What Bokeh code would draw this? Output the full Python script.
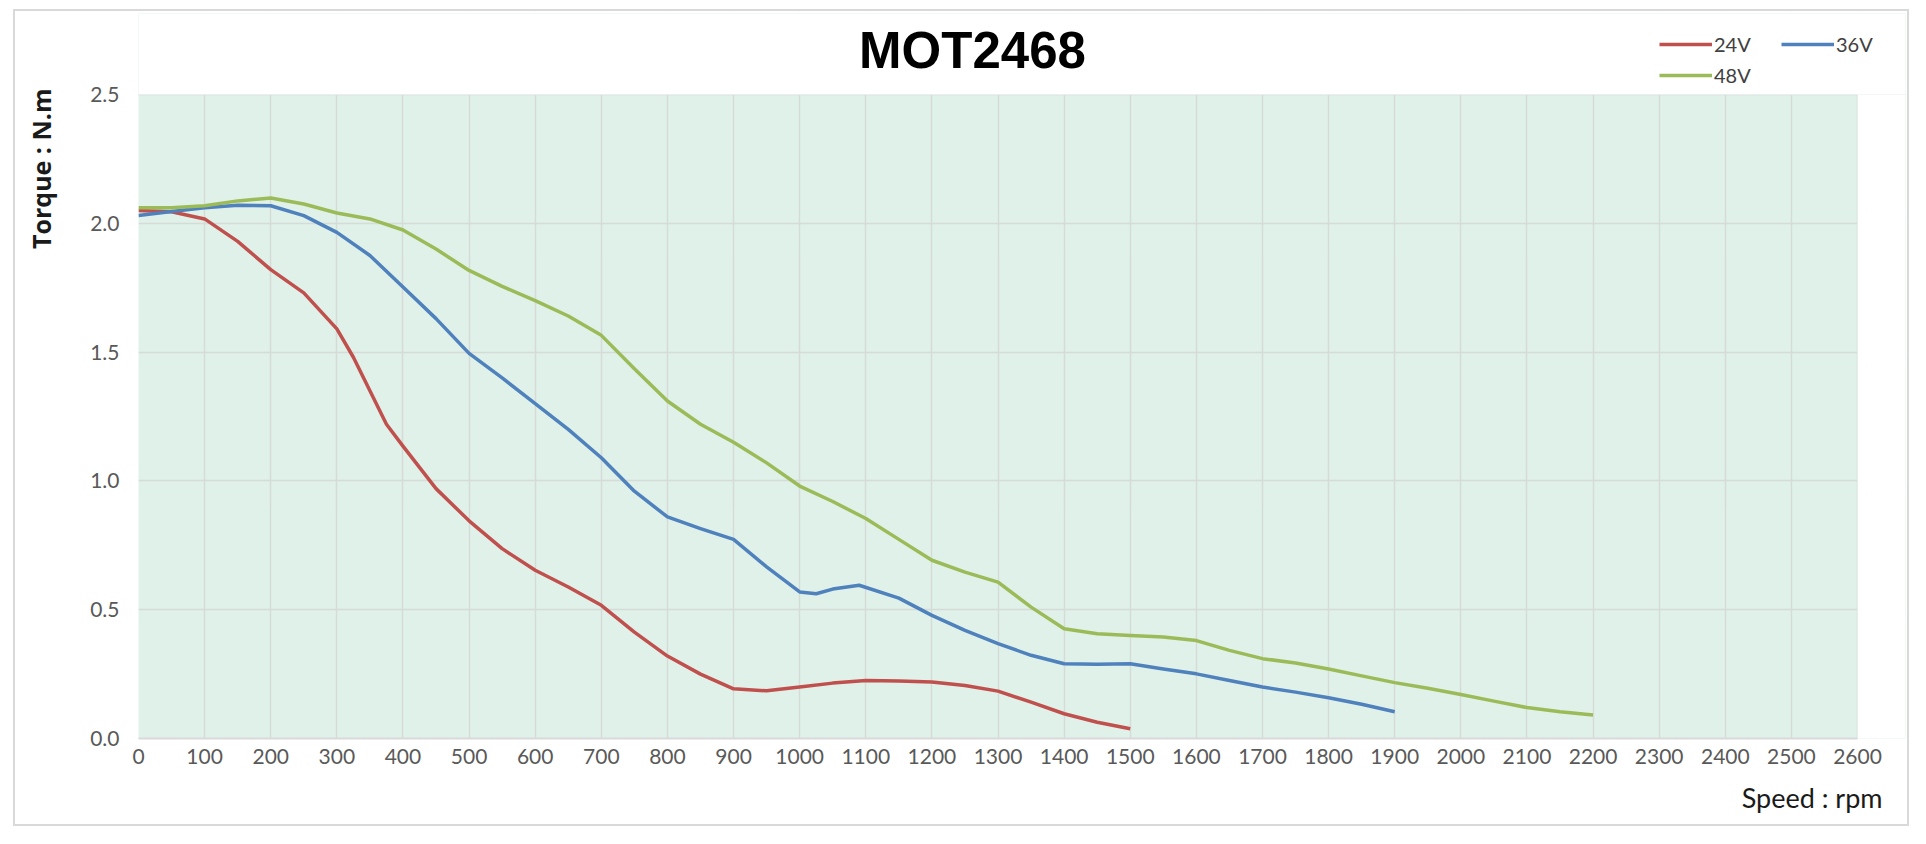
from bokeh.plotting import figure
from bokeh.models import (Range1d, FixedTicker, Legend, LegendItem, Title, Label,
                          NumeralTickFormatter, GlobalInlineStyleSheet)
from bokeh.embed import file_html
from bokeh.resources import INLINE

# ---- data ----
speed_24v = [0, 50, 100, 150, 200, 250, 300, 325, 350, 375, 400, 450, 500, 550, 600, 650, 700, 750, 800,
             850, 900, 950, 1000, 1050, 1100, 1150, 1200, 1250, 1300, 1350, 1400, 1450, 1500]
torque_24v = [2.05, 2.045, 2.017, 1.93, 1.82, 1.73, 1.59, 1.48, 1.35, 1.22, 1.135, 0.97, 0.845, 0.737,
              0.653, 0.588, 0.517, 0.413, 0.32, 0.25, 0.193, 0.185, 0.20, 0.215, 0.225, 0.223, 0.219,
              0.206, 0.184, 0.141, 0.096, 0.063, 0.038]

speed_36v = [0, 50, 100, 150, 200, 250, 300, 350, 400, 450, 500, 550, 600, 650, 700, 750, 800, 850, 900,
             950, 1000, 1025, 1050, 1090, 1150, 1200, 1250, 1300, 1350, 1400, 1450, 1500, 1550, 1600,
             1650, 1700, 1750, 1800, 1850, 1900]
torque_36v = [2.03, 2.046, 2.06, 2.07, 2.068, 2.03, 1.965, 1.875, 1.753, 1.63, 1.495, 1.40, 1.30, 1.20,
              1.09, 0.96, 0.86, 0.815, 0.773, 0.666, 0.569, 0.562, 0.58, 0.595, 0.545, 0.478, 0.42,
              0.368, 0.323, 0.29, 0.288, 0.29, 0.27, 0.251, 0.225, 0.20, 0.18, 0.158, 0.133, 0.104]

speed_48v = [0, 50, 100, 150, 200, 250, 300, 350, 400, 450, 500, 550, 600, 650, 700, 750, 800, 850, 900,
             950, 1000, 1050, 1100, 1150, 1200, 1250, 1300, 1350, 1400, 1450, 1500, 1550, 1600, 1650,
             1700, 1750, 1800, 1850, 1900, 1950, 2000, 2050, 2100, 2150, 2200]
torque_48v = [2.06, 2.06, 2.068, 2.087, 2.098, 2.075, 2.04, 2.017, 1.974, 1.90, 1.817, 1.755, 1.70, 1.64,
              1.565, 1.435, 1.31, 1.22, 1.15, 1.07, 0.98, 0.92, 0.854, 0.773, 0.692, 0.646, 0.607, 0.51,
              0.426, 0.407, 0.40, 0.394, 0.38, 0.342, 0.31, 0.293, 0.27, 0.243, 0.217, 0.195, 0.171,
              0.145, 0.12, 0.104, 0.091]

series_names = ["24V", "36V", "48V"]
series_colors = ["#C0504D", "#4F81BD", "#9BBB59"]
x_ticks = list(range(0, 2700, 100))
y_ticks = [0.0, 0.5, 1.0, 1.5, 2.0, 2.5]
x_max = 2600
y_max = 2.5
chart_title = "MOT2468"
y_title = "Torque : N.m"
x_title = "Speed : rpm"

# ---- layout constants (pixels on the page) ----
# the frame reaches beyond the mint plot area (up and to the right) so that the
# title and legend can sit in it; a white band hides the extra part
AREA_LEFT, AREA_RIGHT, FRAME_RIGHT = 136, 1857, 1905
FRAME_TOP, AREA_TOP, FRAME_BOTTOM = 13, 94, 738
Y_TOP = y_max * (FRAME_BOTTOM - FRAME_TOP) / (FRAME_BOTTOM - AREA_TOP)
X_RIGHT = x_max * (FRAME_RIGHT - AREA_LEFT) / (AREA_RIGHT - AREA_LEFT)
CANVAS_LEFT, CANVAS_TOP = -7, 11

frame_css = GlobalInlineStyleSheet(css="""
body::after { content: ''; position: absolute; left: 13px; top: 9px; width: 1892px; height: 813px;
              border: 2px solid #d9d9d9; pointer-events: none; }
""")

p = figure(width=1907 - CANVAS_LEFT, height=818, output_backend="svg", toolbar_location=None,
           x_range=Range1d(0, X_RIGHT), y_range=Range1d(0, Y_TOP),
           min_border_left=0, min_border_right=2, min_border_top=2, min_border_bottom=91)
p.styles = {"margin-left": f"{CANVAS_LEFT}px", "margin-top": f"{CANVAS_TOP}px"}
p.stylesheets = [frame_css]
p.background_fill_color = "#DFF1E8"
p.border_fill_color = "white"
p.outline_line_color = None

for ax in (p.xaxis[0], p.yaxis[0]):
    ax.major_tick_line_color = None
    ax.minor_tick_line_color = None
    ax.major_label_text_font = "Lato"
    ax.major_label_text_font_size = "21px"
    ax.major_label_text_color = "#595959"

p.xaxis.ticker = FixedTicker(ticks=x_ticks)
p.yaxis.ticker = FixedTicker(ticks=y_ticks)
p.xaxis.bounds = (0, x_max)
p.yaxis.bounds = (0, y_max)
p.yaxis.formatter = NumeralTickFormatter(format="0.0")
p.xaxis.axis_line_color = "#d9d9d9"
p.xaxis.axis_line_width = 2
p.yaxis.axis_line_color = None
p.xaxis.major_label_standoff = 4
p.yaxis.major_label_standoff = 13

p.xgrid.ticker = FixedTicker(ticks=x_ticks)
p.ygrid.ticker = FixedTicker(ticks=y_ticks)
p.xgrid.grid_line_color = "#d5dcd8"
p.ygrid.grid_line_color = "#d5dcd8"
p.xgrid.grid_line_width = 1.5
p.ygrid.grid_line_width = 1.5

# white bands above and right of the plot area
p.quad(left=[0, x_max], right=[X_RIGHT, X_RIGHT], bottom=[y_max, 0], top=[Y_TOP, y_max],
       fill_color="white", line_color=None)

r24 = p.line(speed_24v, torque_24v, line_color=series_colors[0], line_width=3.5, line_join="round")
r36 = p.line(speed_36v, torque_36v, line_color=series_colors[1], line_width=3.5, line_join="round")
r48 = p.line(speed_48v, torque_48v, line_color=series_colors[2], line_width=3.5, line_join="round")

# main title
p.add_layout(Label(x=970 - AREA_LEFT, y=FRAME_BOTTOM - 50, x_units="screen", y_units="screen",
                   text=chart_title, text_font="Liberation Sans", text_font_style="bold",
                   text_font_size="51px", text_color="black", text_align="center",
                   text_baseline="alphabetic"))

# legend (top right, two columns, filled row by row)
legend = Legend(items=[LegendItem(label=series_names[0], renderers=[r24]),
                       LegendItem(label=series_names[1], renderers=[r36]),
                       LegendItem(label=series_names[2], renderers=[r48])],
                orientation="horizontal", ncols=2, location=(1657 - AREA_LEFT, 651),
                padding=0, margin=0,
                glyph_width=53, glyph_height=20, label_height=20, label_width=60,
                label_standoff=2, spacing=7,
                label_text_font="Lato", label_text_font_size="20px", label_text_color="#404040",
                background_fill_alpha=0, border_line_color=None)
p.add_layout(legend, "center")

# axis titles (right edge of "Speed : rpm" at page x 1882)
p.add_layout(Title(text=x_title, align="right", offset=FRAME_RIGHT - 1882,
                   vertical_align="middle", standoff=27,
                   text_font="Lato", text_font_size="27px", text_font_style="normal",
                   text_color="#1a1a1a"), "below")
p.add_layout(Title(text=y_title, align="right", offset=88 - FRAME_TOP, vertical_align="middle",
                   standoff=58, text_font="Open Sans", text_font_size="25px",
                   text_font_style="bold", text_color="#1a1a1a"), "left")

open("out.html", "w").write(file_html(p, INLINE))
